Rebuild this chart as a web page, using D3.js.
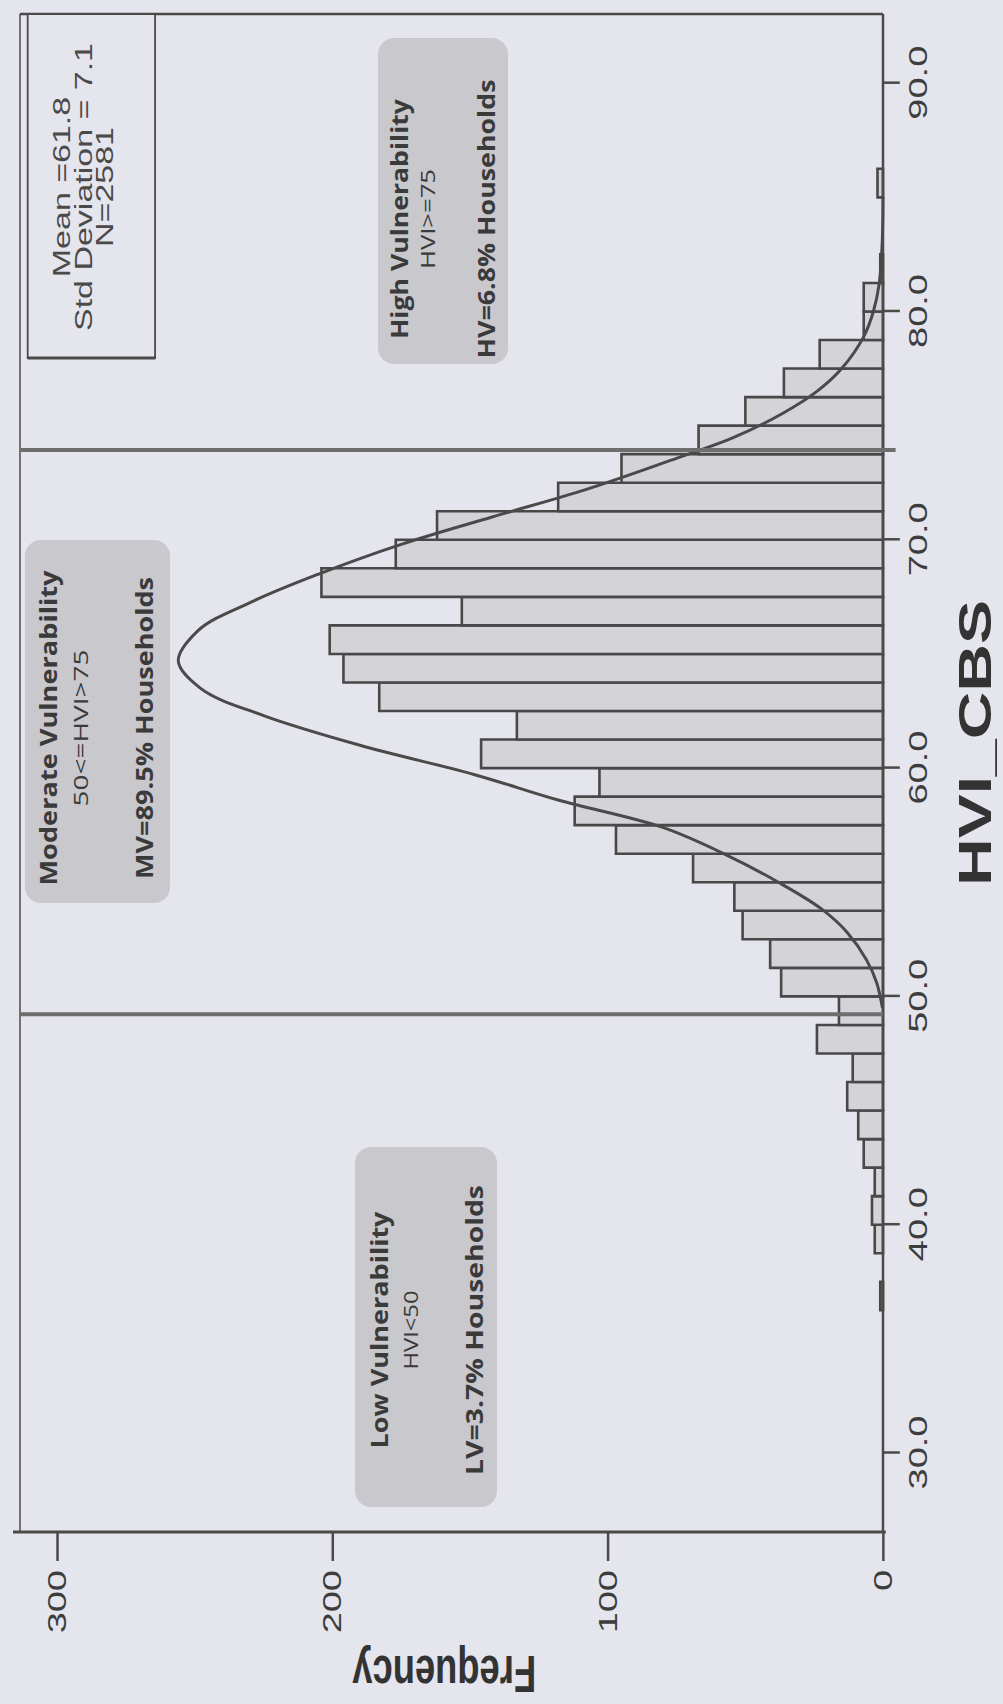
<!DOCTYPE html>
<html><head><meta charset="utf-8">
<script src="https://cdn.jsdelivr.net/npm/d3@7"></script>
<style>
html,body{margin:0;padding:0;background:#e5e5ed;}
svg{display:block;}
</style>
</head><body>
<svg id="c" width="1003" height="1704"></svg>
<script>
// ---------- data ----------
const binStarts = [36.25,37.5,38.75,40,41.25,42.5,43.75,45,46.25,47.5,
                   48.75,50,51.25,52.5,53.75,55,56.25,57.5,58.75,60,
                   61.25,62.5,63.75,65,66.25,67.5,68.75,70,71.25,72.5,
                   73.75,75,76.25,77.5,78.75,80,81.25,82.5,83.75,85];
const binWidth = 1.25;
const frequencies = [1,0,3,4,3,7,9,13,11,24,
                     16,37,41,51,54,69,97,112,103,146,
                     133,183,196,201,153,204,177,162,118,95,
                     67,50,36,23,7,7,1,0,0,2];
const curveHVI  = [49.5,50.6,51.6,52.8,53.8,55.0,56.2,57.4,58.6,59.7,61.0,62.3,63.5,64.7,66.0,67.3,68.5,69.8,71.0,72.2,73.4,74.5,75.5,76.5,77.5,78.9,80.0,81.2,83.0,85.0];
const curveFreq = [0.2,2.3,6,13,22,38,57,80,118,148,190,225,248,256,249,229,205,175,142,108,79,54,37,24,15,7,3.5,1.4,0.3,0];
const hviTicks = [30,40,50,60,70,80,90];
const hviTickLabels = ["30.0","40.0","50.0","60.0","70.0","80.0","90.0"];
const freqTicks = [0,100,200,300];
const freqTickLabels = ["0","100","200","300"];
const thresholds = [49.22, 73.93];
const statsLines = ["Mean =61.8","Std Deviation = 7.1","N=2581"];
const groupTitles = ["Low Vulnerability","Moderate Vulnerability","High Vulnerability"];
const groupRules  = ["HVI<50","50<=HVI>75","HVI>=75"];
const groupShares = ["LV=3.7% Households","MV=89.5% Households","HV=6.8% Households"];
const xTitle = "HVI_CBS", yTitle = "Frequency";

// ---------- layout ----------
const W = 1518, H = 1232.86;
const svg = d3.select("#c");
const ink = "#3d3d3d";
const g = svg.append("g").attr("transform","translate(20,1532) scale(0.7,1) rotate(-90)");
const x = d3.scaleLinear().domain([26.54, 93.03]).range([0, W]);
const y = d3.scaleLinear().domain([0, 313.5]).range([H, 0]);

function ln(p, x1,y1,x2,y2,w,c){
  return p.append("line").attr("x1",x1).attr("y1",y1).attr("x2",x2).attr("y2",y2)
    .attr("stroke",c||"#4a4a4a").attr("stroke-width",w).attr("vector-effect","non-scaling-stroke");
}

// bars
const bins = binStarts.map((s,i)=>({s, f:frequencies[i]})).filter(d=>d.f>0);
g.append("g").selectAll("rect").data(bins).join("rect")
  .attr("x", d=>x(d.s)).attr("width", d=>x(d.s+binWidth)-x(d.s))
  .attr("y", d=>y(d.f)).attr("height", d=>H-y(d.f))
  .attr("fill","#d3d3d8").attr("stroke","#484848").attr("stroke-width",2.6)
  .attr("vector-effect","non-scaling-stroke");

// normal curve
const pts = curveHVI.map((v,i)=>[v,curveFreq[i]]);
g.append("path").datum(pts)
  .attr("d", d3.line().x(d=>x(d[0])).y(d=>y(d[1])).curve(d3.curveCatmullRom.alpha(0.5)))
  .attr("fill","none").attr("stroke","#4a4a4a").attr("stroke-width",3)
  .attr("vector-effect","non-scaling-stroke");

// frame
ln(g, 0,0, W,0, 1.5);          // page left
ln(g, W,0, W,H, 2.5);          // page top
ln(g, 0,-10, 0,H+4, 3);        // frequency axis (page bottom)
ln(g, 0,H, W,H, 2.5);          // HVI axis (page right)

// threshold lines
ln(g, x(thresholds[0]),0, x(thresholds[0]),H, 4, "#6e6e6e");
ln(g, x(thresholds[1]),0, x(thresholds[1]),H+18, 4, "#6e6e6e");

// axes
const ax = g.append("g").attr("transform",`translate(0,${H})`)
  .call(d3.axisBottom(x).tickValues(hviTicks).tickFormat((d,i)=>hviTickLabels[i]).tickSize(24).tickPadding(12));
const ay = g.append("g")
  .call(d3.axisLeft(y).tickValues(freqTicks).tickFormat((d,i)=>freqTickLabels[i]).tickSize(29).tickPadding(9));
[ax,ay].forEach(a=>{
  a.select(".domain").remove();
  a.selectAll("line").attr("stroke","#4a4a4a").attr("stroke-width",2.5).attr("vector-effect","non-scaling-stroke");
  a.selectAll("text").attr("font-family","'Liberation Sans', Arial, sans-serif").attr("font-size",38).attr("fill",ink);
});

// axis titles
g.append("text").attr("x",789).attr("y",H+155).attr("text-anchor","middle")
  .attr("font-family","'Liberation Sans', Arial, sans-serif").attr("font-weight","bold").attr("font-size",66)
  .attr("fill","#333").text(xTitle);
g.append("text").attr("transform",`translate(-124,606) rotate(-90)`).attr("text-anchor","middle")
  .attr("font-family","'Liberation Sans', Arial, sans-serif").attr("font-weight","bold").attr("font-size",52)
  .attr("fill","#333").text(yTitle);

// statistics box
g.append("rect").attr("x",1174).attr("y",11).attr("width",W-1174).attr("height",182)
  .attr("fill","#e5e5ed").attr("stroke","#4a4a4a").attr("stroke-width",1.8).attr("vector-effect","non-scaling-stroke");
ln(g, 1174,11, 1174,193, 3);
g.append("g").selectAll("text").data(statsLines).join("text")
  .attr("x",1345).attr("y",(d,i)=>72+i*30.5).attr("text-anchor","middle")
  .attr("font-family","'Liberation Sans', Arial, sans-serif").attr("font-size",34).attr("fill","#4a4a4a")
  .text(d=>d);

// group annotation boxes (page coordinates)
const boxLayout = [
  {x:355, y:1147, w:142, h:360, cy:1330, bl:[388,418,483], len:[237,79,290]},
  {x:25,  y:540,  w:145, h:363, cy:728,  bl:[57,88,153],   len:[315,157,302]},
  {x:378, y:38,   w:130, h:326, cy:219,  bl:[408,435,495], len:[240,100,279]}
];
const ann = svg.append("g");
boxLayout.forEach((b,i)=>{
  ann.append("rect").attr("x",b.x).attr("y",b.y).attr("width",b.w).attr("height",b.h)
    .attr("rx",16).attr("fill","#c8c8cd");
  const texts = [groupTitles[i], groupRules[i], groupShares[i]];
  texts.forEach((t,k)=>{
    ann.append("text").attr("transform",`translate(${b.bl[k]},${b.cy}) rotate(-90)`)
      .attr("text-anchor","middle")
      .attr("font-family","'Open Sans', sans-serif")
      .attr("font-weight", k===1 ? "normal" : "bold")
      .attr("font-size", k===1 ? 20 : 23)
      .attr("textLength", b.len[k]).attr("lengthAdjust","spacingAndGlyphs")
      .attr("fill","#3a3a3a").text(t);
  });
});
</script>
</body></html>
